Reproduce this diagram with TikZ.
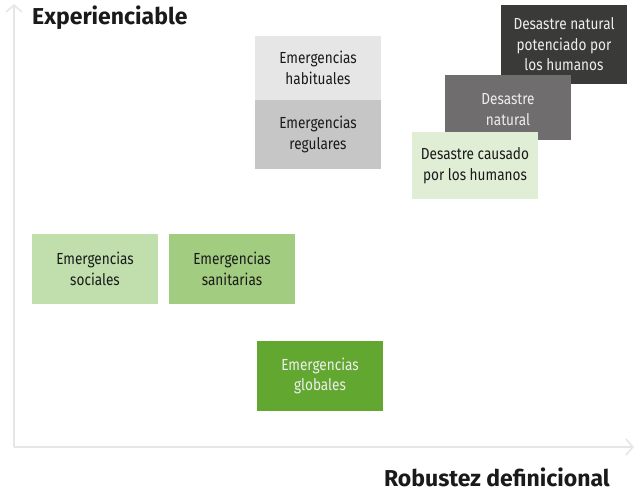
\documentclass[tikz,border=0pt]{standalone}
\usepackage{fontspec}
\setmainfont{Fira Sans}
\newfontfamily\boxfont[FakeStretch=0.85]{Fira Sans}
\usetikzlibrary{arrows.meta}
\definecolor{axisgrey}{HTML}{E6E6E6}
\definecolor{habgrey}{HTML}{E6E6E6}
\definecolor{reggrey}{HTML}{C6C6C6}
\definecolor{socgreen}{HTML}{C0DFAC}
\definecolor{sangreen}{HTML}{A2CD80}
\definecolor{globgreen}{HTML}{62A830}
\definecolor{causgreen}{HTML}{E0EED6}
\definecolor{midgrey}{HTML}{6F6D6E}
\definecolor{darkgrey}{HTML}{3A3A38}
\definecolor{darktext}{HTML}{1A1A1A}
\definecolor{lighttext}{HTML}{EEEEEE}
\tikzset{
  box/.style={rectangle, inner sep=0pt, outer sep=0pt, align=center,
    minimum width=126pt, font=\boxfont\fontsize{16}{20.5}\selectfont, text=darktext},
  axisline/.style={draw=axisgrey, line width=2pt,
    -{Straight Barb[length=7pt,width=16pt,line width=1.6pt]}},
  axlabel/.style={font=\bfseries\fontsize{23}{27}\selectfont, text=darktext, inner sep=0pt}
}
\begin{document}
\begin{tikzpicture}[x=1pt,y=-1pt]
\useasboundingbox (0,0) rectangle (637,492);
% axes
\coordinate (o) at (14,447);
\coordinate (ytop) at (14,4);
\coordinate (xend) at (634,447);
\draw[axisline] (o) -- (ytop);
\draw[axisline] (o) -- (xend);
\node[axlabel, anchor=west] (ylab) at (32,18) {Experienciable};
\node[axlabel, anchor=east] (xlab) at (610,477) {Robustez definicional};
% boxes
\node[box, fill=habgrey, minimum height=64pt] (hab) at (318,68) {Emergencias\\habituales};
\node[box, fill=reggrey, minimum height=69pt] (reg) at (318,134.5) {Emergencias\\regulares};
\node[box, fill=socgreen, minimum height=70pt] (soc) at (95,269) {Emergencias\\sociales};
\node[box, fill=sangreen, minimum height=70pt] (san) at (232,269) {Emergencias\\sanitarias};
\node[box, fill=globgreen, minimum height=70pt, text=lighttext] (glob) at (320,376) {Emergencias\\globales};
\node[box, fill=darkgrey, minimum height=79pt, text=lighttext] (dnp) at (564,44.5) {Desastre natural\\potenciado por\\los humanos};
\node[box, fill=midgrey, minimum height=65pt] (dn) at (508,107.5) {};
\node[text=lighttext, align=center, inner sep=0pt, font=\boxfont\fontsize{16}{20.5}\selectfont] (dntext) at (dn.center) [yshift=-2pt] {Desastre\\natural};
\node[box, fill=causgreen, minimum height=67pt] (dch) at (475,165.5) {Desastre causado\\por los humanos};
\end{tikzpicture}
\end{document}
